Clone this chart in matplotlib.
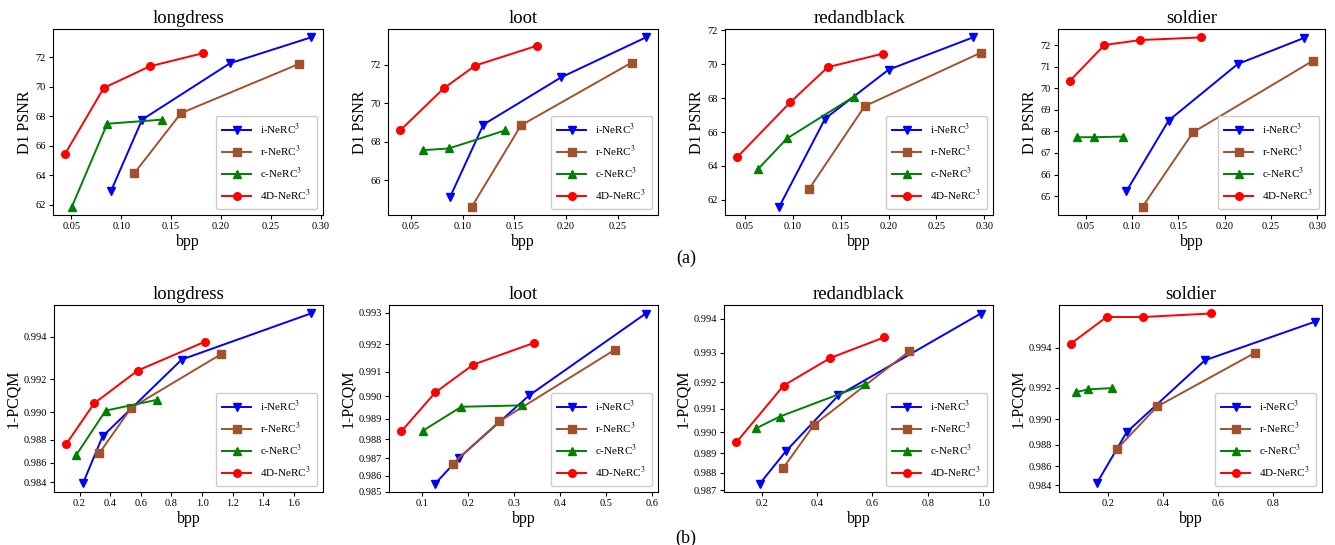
import numpy as np
import matplotlib
matplotlib.use("Agg")
import matplotlib.pyplot as plt
from matplotlib.ticker import FixedLocator, FormatStrFormatter, NullLocator, MultipleLocator

plt.rcParams['font.family'] = ['Liberation Serif', 'DejaVu Serif']
plt.rcParams['mathtext.fontset'] = 'stix'

datasets = ["longdress", "loot", "redandblack", "soldier"]
methods = ["i-NeRC$^3$", "r-NeRC$^3$", "c-NeRC$^3$", "4D-NeRC$^3$"]

# ---- (a) D1 PSNR vs bpp ----
psnr_bpp = {
    "longdress": [[0.090, 0.121, 0.209, 0.290],
                  [0.113, 0.160, 0.278],
                  [0.0507, 0.086, 0.141],
                  [0.044, 0.0826, 0.1286, 0.1824]],
    "loot": [[0.0877, 0.1201, 0.1955, 0.2773],
             [0.109, 0.1565, 0.2636],
             [0.0614, 0.0867, 0.1412],
             [0.0396, 0.0818, 0.1123, 0.172]],
    "redandblack": [[0.0858, 0.1337, 0.200, 0.2882],
                    [0.1167, 0.175, 0.2965],
                    [0.0632, 0.0938, 0.1639],
                    [0.0417, 0.0972, 0.1365, 0.1944]],
    "soldier": [[0.094, 0.1395, 0.2142, 0.2853],
                [0.1115, 0.166, 0.2953],
                [0.0404, 0.0594, 0.090],
                [0.0332, 0.0702, 0.109, 0.174]],
}
psnr_val = {
    "longdress": [[62.97, 67.78, 71.60, 73.35],
                  [64.13, 68.22, 71.55],
                  [61.89, 67.50, 67.78],
                  [65.48, 69.93, 71.39, 72.29]],
    "loot": [[65.12, 68.90, 71.36, 73.43],
             [64.64, 68.86, 72.12],
             [67.57, 67.66, 68.60],
             [68.60, 70.79, 71.97, 73.00]],
    "redandblack": [[61.61, 66.79, 69.67, 71.57],
                    [62.63, 67.52, 70.67],
                    [63.80, 65.62, 68.09],
                    [64.52, 67.75, 69.82, 70.62]],
    "soldier": [[65.23, 68.50, 71.12, 72.32],
                [64.52, 67.96, 71.27],
                [67.73, 67.73, 67.76],
                [70.35, 72.00, 72.23, 72.35]],
}
psnr_ystep = {"longdress": 2, "loot": 2, "redandblack": 2, "soldier": 1}
psnr_xstep = {"longdress": 0.05, "loot": 0.05, "redandblack": 0.05, "soldier": 0.05}

# ---- (b) 1-PCQM vs bpp ----
pcqm_bpp = {
    "longdress": [[0.222, 0.350, 0.867, 1.709],
                  [0.328, 0.537, 1.122],
                  [0.178, 0.370, 0.704],
                  [0.113, 0.296, 0.580, 1.017]],
    "loot": [[0.129, 0.181, 0.333, 0.5855],
             [0.1667, 0.268, 0.519],
             [0.1014, 0.1855, 0.316],
             [0.055, 0.129, 0.2116, 0.3428]],
    "redandblack": [[0.194, 0.287, 0.4775, 0.9915],
                    [0.2772, 0.3894, 0.7333],
                    [0.1807, 0.2652, 0.5729],
                    [0.1083, 0.2796, 0.4486, 0.6416]],
    "soldier": [[0.1574, 0.2669, 0.5529, 0.9557],
                [0.2304, 0.3789, 0.7355],
                [0.082, 0.127, 0.2122],
                [0.0637, 0.1939, 0.3278, 0.5736]],
}
pcqm_val = {
    "longdress": [[0.98389, 0.98825, 0.99300, 0.99487],
                  [0.98683, 0.99030, 0.99324],
                  [0.98668, 0.99012, 0.99081],
                  [0.98763, 0.99060, 0.99246, 0.99379]],
    "loot": [[0.98552, 0.98702, 0.99005, 0.99298],
             [0.98669, 0.98888, 0.99181],
             [0.98842, 0.98955, 0.98961],
             [0.98839, 0.99017, 0.99127, 0.99204]],
    "redandblack": [[0.98740, 0.98909, 0.99152, 0.99414],
                    [0.98823, 0.99032, 0.99305],
                    [0.99017, 0.99067, 0.99193],
                    [0.98952, 0.99189, 0.99284, 0.99347]],
    "soldier": [[0.98418, 0.98901, 0.99343, 0.99502],
                [0.98759, 0.99086, 0.99377],
                [0.99175, 0.99191, 0.99198],
                [0.99417, 0.99518, 0.99518, 0.99530]],
}
pcqm_ticks = {
    "longdress": [0.984, 0.986, 0.988, 0.990, 0.992, 0.994],
    "loot": [0.985, 0.986, 0.987, 0.988, 0.989, 0.990, 0.991, 0.992, 0.993],
    "redandblack": [0.987, 0.988, 0.989, 0.990, 0.991, 0.992, 0.993, 0.994],
    "soldier": [0.984, 0.986, 0.988, 0.990, 0.992, 0.994],
}
pcqm_xstep = {"longdress": 0.2, "loot": 0.1, "redandblack": 0.2, "soldier": 0.2}
pcqm_xlim = {"soldier": (0.02, 0.98)}

colors = ["blue", "sienna", "green", "red"]
markers = ["v", "s", "^", "o"]

fig = plt.figure(figsize=(13.35, 5.45), dpi=100)

top_pos = [(53, 270), (388, 270), (725, 268), (1058, 267)]
bot_pos = [(54, 269), (389, 269), (724, 269), (1059, 263)]
W, H = 1335.0, 545.0


def style(ax, name, ylabel):
    ax.set_title(name, fontsize=13.5, pad=4)
    ax.set_xlabel("bpp", fontsize=11.5, labelpad=2)
    ax.set_ylabel(ylabel, fontsize=11.5, labelpad=2)
    ax.tick_params(labelsize=7.5, length=3, pad=2)
    ax.legend(loc="lower right", fontsize=8, handlelength=2.6,
              borderpad=0.6, labelspacing=0.6, framealpha=1.0)


for i, name in enumerate(datasets):
    l, w = top_pos[i]
    ax = fig.add_axes([l / W, 1 - 215 / H, w / W, (215 - 29) / H])
    for k in range(4):
        ax.plot(psnr_bpp[name][k], psnr_val[name][k], color=colors[k],
                marker=markers[k], markersize=5.5, linewidth=1.4, label=methods[k])
    ax.xaxis.set_major_locator(MultipleLocator(psnr_xstep[name]))
    ax.xaxis.set_major_formatter(FormatStrFormatter("%.2f"))
    ax.yaxis.set_major_locator(MultipleLocator(psnr_ystep[name]))
    ax.yaxis.set_major_formatter(FormatStrFormatter("%d"))
    style(ax, name, "D1 PSNR")

    l, w = bot_pos[i]
    ax = fig.add_axes([l / W, 1 - 492 / H, w / W, (492 - 305) / H])
    for k in range(4):
        ax.plot(pcqm_bpp[name][k], pcqm_val[name][k], color=colors[k],
                marker=markers[k], markersize=5.5, linewidth=1.4, label=methods[k])
    ax.set_yscale("logit")
    ax.yaxis.set_major_locator(FixedLocator(pcqm_ticks[name]))
    ax.yaxis.set_major_formatter(FormatStrFormatter("%.3f"))
    ax.yaxis.set_minor_locator(NullLocator())
    ax.xaxis.set_major_locator(MultipleLocator(pcqm_xstep[name]))
    ax.xaxis.set_major_formatter(FormatStrFormatter("%.1f"))
    if name in pcqm_xlim:
        ax.set_xlim(*pcqm_xlim[name])
    style(ax, name, "1-PCQM")

fig.text(686 / W, 1 - 258 / H, "(a)", ha="center", va="center", fontsize=13)
fig.text(686 / W, 1 - 538 / H, "(b)", ha="center", va="center", fontsize=13)

fig.savefig("out.png", dpi=100)
